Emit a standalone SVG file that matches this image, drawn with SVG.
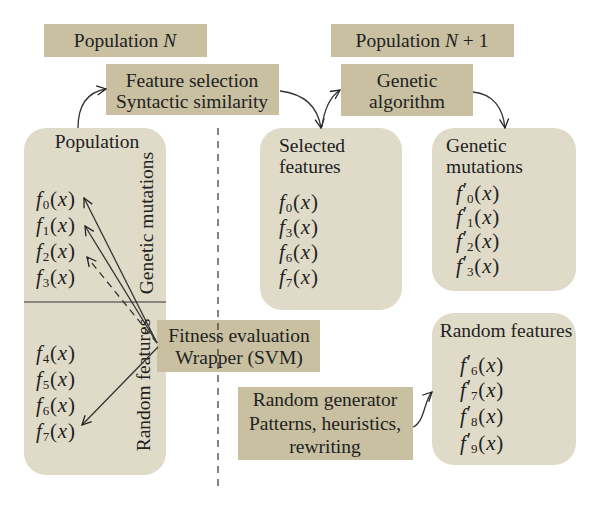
<svg xmlns="http://www.w3.org/2000/svg" width="600" height="510" viewBox="0 0 600 510">
<defs>
<style>
.lbl{fill:#c8c0a0}
.grp{fill:#dfdbc8}
text{font-family:"Liberation Serif","DejaVu Serif",serif;font-size:19.5px;fill:#222}
.m{font-size:21px;letter-spacing:0.8px}
.it{font-style:italic}
.sub{font-size:13px}
.pr{font-size:20px;letter-spacing:0}
.c{stroke:#333;stroke-width:1.3;fill:none}
</style>
<marker id="ah" viewBox="0 0 12 12" refX="11" refY="6" markerWidth="11" markerHeight="11" markerUnits="userSpaceOnUse" orient="auto">
<path d="M1,1 L11,6 L1,11" fill="none" stroke="#222" stroke-width="1.4"/>
</marker>
</defs>
<rect width="600" height="510" fill="#fff"/>

<g id="popN"><rect class="lbl" x="44" y="24" width="163" height="33"/><text x="125" y="47" text-anchor="middle">Population <tspan class="it">N</tspan></text></g>
<g id="popN1"><rect class="lbl" x="331" y="24" width="183" height="33"/><text x="422" y="47" text-anchor="middle">Population <tspan class="it">N</tspan> + 1</text></g>
<g id="featsel"><rect class="lbl" x="106" y="64" width="173" height="51"/><text x="192" y="87" text-anchor="middle">Feature selection</text><text x="192" y="108" text-anchor="middle">Syntactic similarity</text></g>
<g id="ga"><rect class="lbl" x="341" y="64" width="132" height="52"/><text x="407" y="87" text-anchor="middle">Genetic</text><text x="407" y="108" text-anchor="middle">algorithm</text></g>

<g id="population">
<rect class="grp" x="24" y="128" width="142" height="347" rx="22"/>
<line x1="24" y1="302" x2="166" y2="302" stroke="#333" stroke-width="1.2"/>
<text x="97" y="148" text-anchor="middle">Population</text>
<text transform="translate(153,223) rotate(-90)" text-anchor="middle">Genetic mutations</text>
<text transform="translate(150,385) rotate(-90)" text-anchor="middle">Random features</text>
<text class="m" x="36" y="206"><tspan class="it">f</tspan><tspan class="sub" dy="3">0</tspan><tspan dy="-3">(</tspan><tspan class="it">x</tspan>)</text>
<text class="m" x="36" y="232"><tspan class="it">f</tspan><tspan class="sub" dy="3">1</tspan><tspan dy="-3">(</tspan><tspan class="it">x</tspan>)</text>
<text class="m" x="36" y="258"><tspan class="it">f</tspan><tspan class="sub" dy="3">2</tspan><tspan dy="-3">(</tspan><tspan class="it">x</tspan>)</text>
<text class="m" x="36" y="284"><tspan class="it">f</tspan><tspan class="sub" dy="3">3</tspan><tspan dy="-3">(</tspan><tspan class="it">x</tspan>)</text>
<text class="m" x="36" y="360"><tspan class="it">f</tspan><tspan class="sub" dy="3">4</tspan><tspan dy="-3">(</tspan><tspan class="it">x</tspan>)</text>
<text class="m" x="36" y="386"><tspan class="it">f</tspan><tspan class="sub" dy="3">5</tspan><tspan dy="-3">(</tspan><tspan class="it">x</tspan>)</text>
<text class="m" x="36" y="412"><tspan class="it">f</tspan><tspan class="sub" dy="3">6</tspan><tspan dy="-3">(</tspan><tspan class="it">x</tspan>)</text>
<text class="m" x="36" y="438"><tspan class="it">f</tspan><tspan class="sub" dy="3">7</tspan><tspan dy="-3">(</tspan><tspan class="it">x</tspan>)</text>
</g>

<g id="fitness"><rect class="lbl" x="157" y="320" width="163" height="52"/><text x="239" y="342" text-anchor="middle">Fitness evaluation</text><text x="239" y="364" text-anchor="middle">Wrapper (SVM)</text></g>

<g id="selected">
<rect class="grp" x="260" y="128" width="142" height="182" rx="22"/>
<text x="279" y="152">Selected</text><text x="279" y="173">features</text>
<text class="m" x="279" y="209"><tspan class="it">f</tspan><tspan class="sub" dy="3">0</tspan><tspan dy="-3">(</tspan><tspan class="it">x</tspan>)</text>
<text class="m" x="279" y="234"><tspan class="it">f</tspan><tspan class="sub" dy="3">3</tspan><tspan dy="-3">(</tspan><tspan class="it">x</tspan>)</text>
<text class="m" x="279" y="259"><tspan class="it">f</tspan><tspan class="sub" dy="3">6</tspan><tspan dy="-3">(</tspan><tspan class="it">x</tspan>)</text>
<text class="m" x="279" y="284"><tspan class="it">f</tspan><tspan class="sub" dy="3">7</tspan><tspan dy="-3">(</tspan><tspan class="it">x</tspan>)</text>
</g>

<g id="mutations">
<rect class="grp" x="432" y="128" width="144" height="163" rx="22"/>
<text x="446" y="152">Genetic</text><text x="446" y="173">mutations</text>
<text class="m" x="456" y="200"><tspan class="it">f</tspan><tspan class="pr" dy="-3">′</tspan><tspan class="sub" dy="6">0</tspan><tspan dy="-3">(</tspan><tspan class="it">x</tspan>)</text>
<text class="m" x="456" y="224"><tspan class="it">f</tspan><tspan class="pr" dy="-3">′</tspan><tspan class="sub" dy="6">1</tspan><tspan dy="-3">(</tspan><tspan class="it">x</tspan>)</text>
<text class="m" x="456" y="248"><tspan class="it">f</tspan><tspan class="pr" dy="-3">′</tspan><tspan class="sub" dy="6">2</tspan><tspan dy="-3">(</tspan><tspan class="it">x</tspan>)</text>
<text class="m" x="456" y="273"><tspan class="it">f</tspan><tspan class="pr" dy="-3">′</tspan><tspan class="sub" dy="6">3</tspan><tspan dy="-3">(</tspan><tspan class="it">x</tspan>)</text>
</g>

<g id="randfeat">
<rect class="grp" x="432" y="313" width="144" height="152" rx="22"/>
<text x="506" y="337" text-anchor="middle">Random features</text>
<text class="m" x="460" y="372"><tspan class="it">f</tspan><tspan class="pr" dy="-3">′</tspan><tspan class="sub" dy="6">6</tspan><tspan dy="-3">(</tspan><tspan class="it">x</tspan>)</text>
<text class="m" x="460" y="397"><tspan class="it">f</tspan><tspan class="pr" dy="-3">′</tspan><tspan class="sub" dy="6">7</tspan><tspan dy="-3">(</tspan><tspan class="it">x</tspan>)</text>
<text class="m" x="460" y="423"><tspan class="it">f</tspan><tspan class="pr" dy="-3">′</tspan><tspan class="sub" dy="6">8</tspan><tspan dy="-3">(</tspan><tspan class="it">x</tspan>)</text>
<text class="m" x="460" y="450"><tspan class="it">f</tspan><tspan class="pr" dy="-3">′</tspan><tspan class="sub" dy="6">9</tspan><tspan dy="-3">(</tspan><tspan class="it">x</tspan>)</text>
</g>

<g id="randgen"><rect class="lbl" x="238" y="387" width="175" height="73"/><text x="325" y="406" text-anchor="middle">Random generator</text><text x="325" y="430" text-anchor="middle">Patterns, heuristics,</text><text x="325" y="453" text-anchor="middle">rewriting</text></g>

<g id="connectors">
<line x1="218" y1="128" x2="218" y2="490" stroke="#333" stroke-width="1.2" stroke-dasharray="7,6"/>
<path class="c" d="M78,128 C78,105 88,92 106,89" marker-end="url(#ah)"/>
<path class="c" d="M280,91 C305,94 318,108 321,128" marker-end="url(#ah)"/>
<path class="c" d="M322,127 C324,110 330,97 340,90" marker-end="url(#ah)"/>
<path class="c" d="M473,92 C493,94 503,108 505,128" marker-end="url(#ah)"/>
<path class="c" d="M413,427 C425,422 424,400 432,392" marker-end="url(#ah)"/>
<line class="c" x1="157" y1="343" x2="84" y2="198" marker-end="url(#ah)"/>
<line class="c" x1="157" y1="343" x2="85" y2="226" marker-end="url(#ah)"/>
<line class="c" x1="157" y1="343" x2="87" y2="257" stroke-dasharray="7,5" marker-end="url(#ah)"/>
<line class="c" x1="158" y1="347" x2="82" y2="425" marker-end="url(#ah)"/>
</g>
</svg>
